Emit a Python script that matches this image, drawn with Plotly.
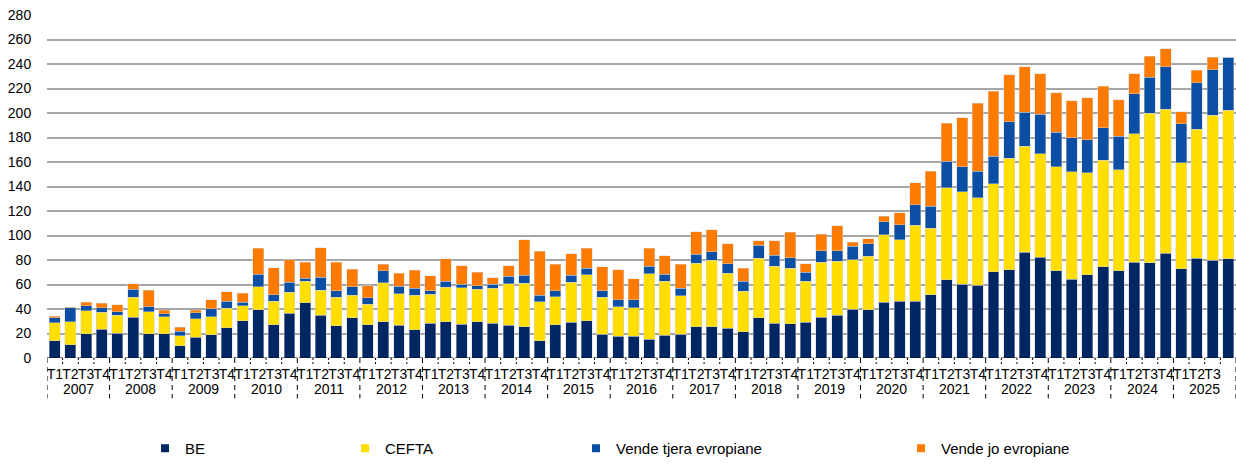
import plotly.graph_objects as go

years = [str(y) for y in range(2007, 2026)]
quarters = ["T1", "T2", "T3", "T4"]

be = [14.1, 10.8, 19.8, 23.6, 20.3, 33.3, 19.8, 19.8, 10.0, 17.1, 19.0, 24.9,
      30.6, 39.3, 27.3, 36.6, 45.0, 34.7, 26.5, 33.0, 27.1, 29.5, 26.8, 23.0,
      28.4, 29.8, 27.6, 29.5, 28.4, 26.8, 25.7, 14.1, 27.1, 29.0, 30.3, 19.2,
      17.9, 17.9, 15.4, 18.7, 19.2, 25.5, 25.5, 24.1, 21.4, 32.8, 28.4, 27.9,
      29.3, 33.3, 34.7, 39.8, 39.3, 45.5, 46.3, 46.3, 51.5, 63.7, 60.3, 59.5,
      70.5, 71.9, 86.2, 82.4, 71.1, 64.3, 67.8, 74.6, 71.1, 78.1, 77.6, 85.4,
      72.7, 81.6, 80.0, 81.1]
cefta = [14.6, 19.0, 18.6, 13.8, 14.4, 16.5, 17.8, 13.8, 8.1, 14.9, 14.8, 15.7,
         12.2, 18.9, 19.0, 17.0, 17.6, 20.5, 23.3, 18.4, 16.8, 32.0, 25.7, 28.2,
         23.6, 28.1, 29.8, 26.5, 28.5, 33.9, 35.5, 31.9, 23.0, 33.0, 37.7, 30.4,
         24.1, 23.3, 53.4, 43.9, 31.7, 51.9, 54.1, 44.9, 33.0, 48.7, 46.6, 45.2,
         33.5, 45.0, 44.1, 40.6, 43.8, 55.0, 50.4, 62.0, 54.6, 75.3, 75.5, 71.5,
         71.9, 91.1, 86.5, 84.4, 85.1, 87.9, 83.3, 86.8, 82.7, 105.1, 122.1, 117.6,
         86.5, 105.2, 118.1, 121.3]
tjera = [4.3, 11.4, 4.1, 3.8, 3.2, 6.3, 4.1, 2.7, 3.6, 4.8, 6.3, 5.7,
         2.7, 10.0, 5.4, 8.1, 2.7, 10.6, 4.9, 6.8, 5.1, 9.7, 6.0, 5.9,
         3.0, 4.9, 3.0, 3.0, 3.2, 6.2, 6.2, 5.4, 4.6, 5.7, 5.4, 5.4,
         5.4, 6.2, 5.9, 5.9, 6.2, 7.4, 7.1, 7.9, 8.4, 10.6, 8.9, 8.9,
         7.3, 9.4, 8.9, 10.9, 10.3, 10.8, 12.2, 16.8, 17.7, 21.5, 20.2, 21.6,
         22.5, 30.0, 27.8, 32.1, 28.1, 27.8, 27.0, 26.4, 27.3, 32.5, 29.5, 34.6,
         32.2, 37.8, 37.3, 43.0]
jo = [1.0, 0.2, 3.0, 3.5, 5.4, 4.6, 13.5, 2.7, 3.5, 2.2, 7.3, 7.6,
      7.3, 21.2, 22.0, 18.5, 12.7, 24.1, 23.3, 14.1, 10.0, 5.2, 10.5, 14.4,
      12.2, 18.4, 14.9, 11.1, 5.4, 8.4, 29.3, 35.8, 21.7, 17.6, 16.0, 19.5,
      24.6, 17.3, 14.7, 14.9, 19.3, 18.1, 18.1, 16.5, 10.6, 3.5, 11.7, 20.6,
      6.7, 13.3, 20.3, 3.2, 3.8, 4.6, 9.7, 17.9, 28.8, 31.1, 40.2, 55.5,
      52.7, 38.1, 37.3, 33.0, 32.2, 30.0, 34.3, 34.1, 29.7, 16.2, 17.3, 14.8,
      9.7, 10.3, 10.0, 0.0]

series_names = ["BE", "CEFTA", "Vende tjera evropiane", "Vende jo evropiane"]
series_values = [be, cefta, tjera, jo]
colors = ["#002664", "#FFDE00", "#0A4FA3", "#FF7B00"]
y_ticks = list(range(0, 281, 20))

n = len(years) * len(quarters)
xs = list(range(n))
qlabels = [quarters[i % 4] for i in range(n)]

FONT = "Liberation Sans, Arial, sans-serif"
fig = go.Figure()

for name, vals, col in zip(series_names, series_values, colors):
    fig.add_trace(go.Bar(
        x=xs, y=vals, name=name, marker_color=col,
        marker_line=dict(color="rgba(210,210,210,0.9)", width=0.5),
        showlegend=False, hoverinfo="y+name"))

# legend entries (small square symbols), one legend per item placed like the reference
W, L = 1189, 47
text_px = [185, 385, 616, 941]
legend_names = ["legend", "legend2", "legend3", "legend4"]
for name, col, lg in zip(series_names, colors, legend_names):
    fig.add_trace(go.Scatter(
        x=[None], y=[None], mode="markers", name=name, legend=lg,
        marker=dict(symbol="square", size=8, color=col)))

legend_common = dict(orientation="h", yanchor="middle", y=-0.264, xanchor="left",
                     bgcolor="rgba(0,0,0,0)", itemsizing="trace",
                     font=dict(family=FONT, size=15, color="#000"))
layout_legends = {}
for lg, tp in zip(legend_names, text_px):
    d = dict(legend_common)
    d["x"] = (tp - 40 - L) / W
    layout_legends[lg] = d

shapes = []
# dashed baseline
shapes.append(dict(type="line", xref="x", yref="y", x0=-0.5, x1=n - 0.5, y0=0, y1=0,
                   line=dict(color="#000", width=1, dash="4px,2px")))
for k in range(n + 1):
    xpos = k - 0.5
    if k % 4 == 0:
        shapes.append(dict(type="line", xref="x", yref="paper", x0=xpos, x1=xpos,
                           y0=0, y1=-0.118, line=dict(color="#000", width=1, dash="5px,4px")))
    else:
        shapes.append(dict(type="line", xref="x", yref="paper", x0=xpos, x1=xpos,
                           y0=0, y1=-0.02, line=dict(color="#000", width=1, dash="2px,2px")))

annotations = []
for i, yr in enumerate(years):
    annotations.append(dict(x=4 * i + 1.5, y=-0.09, xref="x", yref="paper",
                            text=yr, showarrow=False, yanchor="middle",
                            font=dict(family=FONT, size=14, color="#000")))

fig.update_layout(
    width=1236, height=465,
    margin=dict(l=47, r=0, t=15, b=105),
    barmode="stack", bargap=0.3,
    plot_bgcolor="white", paper_bgcolor="white",
    font=dict(family=FONT, size=14, color="#000"),
    shapes=shapes, annotations=annotations,
    **layout_legends,
)
fig.update_xaxes(range=[-0.5, n - 0.5], tickvals=xs, ticktext=qlabels,
                 ticks="outside", ticklen=3, tickcolor="rgba(0,0,0,0)",
                 showgrid=False, zeroline=False, showline=False,
                 tickfont=dict(family=FONT, size=14, color="#000"), tickangle=0)
fig.update_yaxes(range=[0, 280], tickvals=y_ticks, showgrid=True,
                 gridcolor="#a6a6a6", gridwidth=1.5, zeroline=False, showline=False,
                 ticks="outside", ticklen=12, tickcolor="rgba(0,0,0,0)",
                 tickfont=dict(family=FONT, size=14, color="#000"))

fig.write_html("out.html", config={"displayModeBar": False},
               post_script="document.body.style.margin='0px';document.body.style.overflow='hidden';")
